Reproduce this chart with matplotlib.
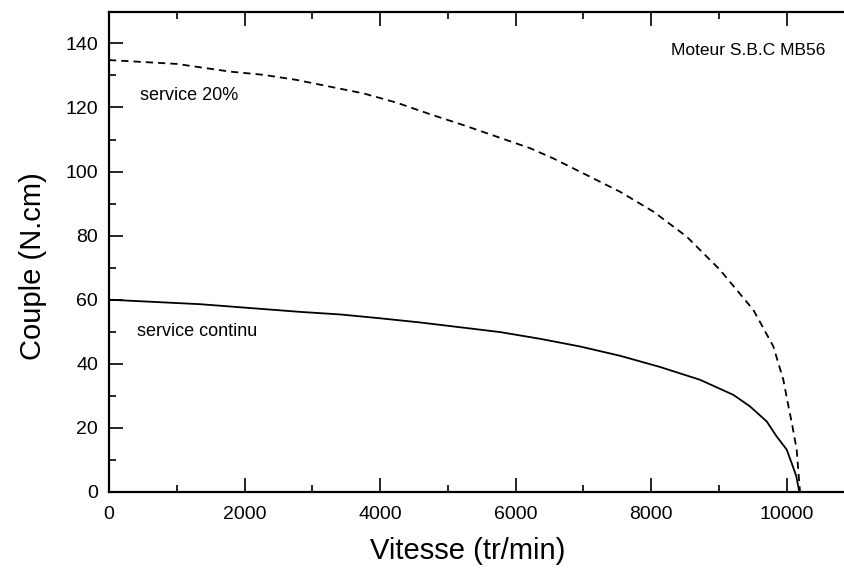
import matplotlib
matplotlib.use('Agg')
import matplotlib.pyplot as plt
from matplotlib.ticker import MultipleLocator

plt.rcParams['font.family'] = ['Liberation Sans', 'DejaVu Sans']

# service 20% (dashed)
speed_20 = [0, 1000, 1785, 2277, 2769, 3261, 3753, 4245, 4737, 5229, 5720,
            6212, 6556, 7049, 7540, 8032, 8524, 9016, 9508, 9803, 9950,
            10000, 10080, 10147, 10196]
torque_20 = [134.8, 133.6, 131.2, 130.2, 128.6, 126.5, 124.4, 121.5, 117.9,
             114.5, 110.9, 107.3, 104.1, 98.9, 93.7, 87.5, 79.7, 69.3, 56.8,
             45.4, 35.0, 29.5, 21.0, 13.2, 0.0]

# service continu (solid)
speed_cont = [0, 1343, 2818, 3409, 3999, 4589, 5179, 5769, 6360, 6950, 7540,
              8131, 8721, 9212, 9458, 9705, 9852, 10000, 10073, 10140, 10186]
torque_cont = [60.0, 58.6, 56.2, 55.4, 54.2, 52.9, 51.4, 49.9, 47.8, 45.4,
               42.5, 39.0, 35.0, 30.3, 26.7, 22.0, 17.3, 13.2, 9.0, 5.0, 0.0]


def plotCouple():
    fig = plt.figure(figsize=(8.45, 5.72), dpi=100)
    ax = fig.add_axes([0.129, 0.14, 0.871, 0.839])
    ax.plot(speed_20, torque_20, color='black', lw=1.3, ls=(0, (4, 2.8)))
    ax.plot(speed_cont, torque_cont, color='black', lw=1.3)

    ax.set_xlim(0, 10860)
    ax.set_ylim(0, 149.8)
    ax.xaxis.set_major_locator(MultipleLocator(2000))
    ax.xaxis.set_minor_locator(MultipleLocator(1000))
    ax.yaxis.set_major_locator(MultipleLocator(20))
    ax.yaxis.set_minor_locator(MultipleLocator(10))
    ax.tick_params(which='major', direction='in', length=10, width=1.2,
                   top=True, right=False, labelsize=14)
    ax.tick_params(which='minor', direction='in', length=5, width=1.2,
                   top=True, right=False)
    ax.tick_params(axis='x', which='major', pad=10)
    ax.tick_params(axis='y', which='major', pad=8)
    for side in ['left', 'bottom', 'top']:
        ax.spines[side].set_linewidth(1.6)
    ax.spines['right'].set_visible(False)

    ax.set_xlabel('Vitesse (tr/min)', fontsize=21, labelpad=10)
    ax.set_ylabel('Couple (N.cm)', fontsize=21, labelpad=13)
    ax.xaxis.label.set_x(0.488)
    ax.yaxis.label.set_y(0.47)

    ax.text(0.974, 0.919, 'Moteur S.B.C MB56', transform=ax.transAxes,
            ha='right', va='center', fontsize=12.5)
    ax.text(0.042, 0.825, 'service 20%', transform=ax.transAxes,
            ha='left', va='center', fontsize=13)
    ax.text(0.038, 0.335, 'service continu', transform=ax.transAxes,
            ha='left', va='center', fontsize=13)

    fig.savefig('out.png', dpi=100)


def main():
    plotCouple()


if __name__ == '__main__':
    main()
